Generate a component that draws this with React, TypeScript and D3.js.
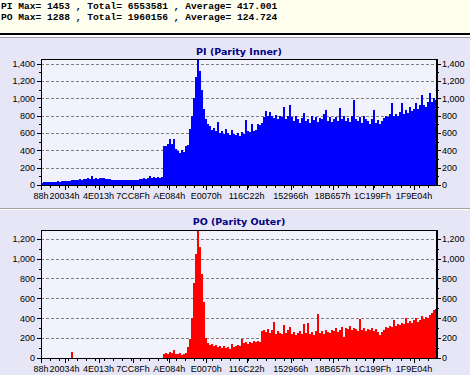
import React from "react";
import * as d3 from "d3";

// ---- data ----
const summaryLines = [
  "PI Max= 1453 , Total= 6553581 , Average= 417.001",
  "PO Max= 1288 , Total= 1960156 , Average= 124.724",
];

const xTickLabels = [
  "88h", "20034h", "4E013h", "7CC8Fh", "AE084h", "E0070h",
  "116C22h", "152966h", "18B657h", "1C199Fh", "1F9E04h",
];

const sectorEnd = 0x219000;

const piValues = [
  28, 32, 30, 35, 33, 38, 36, 40, 42, 38, 45, 44, 48, 46, 50,
  55, 52, 60, 58, 65, 62, 70, 66, 75, 72, 104, 70, 78, 74, 80,
  75, 78, 72, 70, 68,
  60, 58, 55, 56, 52, 55, 54, 58, 56, 55, 60, 58, 62, 60, 65,
  70, 75, 68, 80, 100, 85, 90, 78, 88, 84, 92,
  450, 445, 470, 530, 470, 530, 420, 390, 370, 400, 380, 450,
  460, 650, 800, 1000, 1250, 1453, 1320, 1100, 880, 760,
  700, 680, 640, 660, 620, 730, 600, 620, 590, 650, 600, 580, 640, 590, 580,
  600, 560, 610, 590, 750, 620, 610, 700, 620, 640, 700, 690, 720,
  780, 850, 800, 840, 790, 770, 810, 760, 800, 780, 900, 760, 790, 920, 780, 740, 800, 760, 720,
  770, 830, 740, 760, 720, 800, 750, 780, 730, 770, 760, 820, 860, 740, 780, 730, 760,
  780, 740, 890, 760, 800, 740, 770, 730, 800, 975, 760,
  740, 780, 720, 800, 760, 740, 700, 760, 860, 720, 750, 700, 740, 770,
  800, 780, 820, 950, 800, 820, 790, 840, 950, 820, 860, 830, 900, 850, 880, 940, 880, 920, 1040, 920, 900, 960, 1060, 960, 1000, 980,
];

const poValues = [
  0, 0, 0, 0, 0, 0, 0, 0, 0, 0, 0, 0, 0, 0, 0,
  57, 0, 0, 0, 0, 0, 0, 0, 0, 0, 0, 0, 0, 0, 0,
  0, 0, 0, 0, 0, 0, 0, 0, 0, 0, 0, 0, 0, 0, 0,
  0, 0, 0, 0, 0, 0, 0, 0, 0, 0, 0, 0, 0, 0, 0, 0,
  45, 55, 40, 60, 50, 84, 45, 40, 50, 35, 45, 55,
  110, 190, 400, 750, 1050, 1288, 1120, 850, 560, 200,
  150, 130, 140, 120, 130, 110, 125, 105, 120, 100, 115, 95, 145, 110, 120,
  130, 125, 190, 150, 160, 145, 165, 150, 170, 160, 175, 165, 270,
  280, 260, 290, 250, 280, 360, 240, 270, 255, 240, 330, 250, 280, 310, 240, 260, 230, 250, 270,
  240, 340, 250, 350, 240, 260, 230, 270, 440, 250, 270, 240, 280, 260, 250, 280, 270,
  300, 260, 280, 310, 210, 300, 290, 320, 280, 300, 290,
  270, 395, 280, 300, 270, 290, 280, 300, 270, 290, 260, 230, 260, 280,
  310, 300, 320, 310, 380, 320, 340, 330, 350, 340, 405, 350, 370, 355, 380, 400, 360, 380, 420, 390, 410, 400, 430, 450, 480, 495,
];

const panelDefs = [
  { title: "PI (Parity Inner)", values: piValues, color: "#0000FF", top: 59, bottom: 185, titleY: 55, labelY: 199 },
  { title: "PO (Parity Outer)", values: poValues, color: "#FF0000", top: 230, bottom: 358, titleY: 225, labelY: 372 },
];

// ---- layout ----
const W = 470;
const H = 375;
const PL = 41;
const PR = 437;
const SANS = "'Liberation Sans', Arial, sans-serif";

function Panel({ def }: { def: typeof panelDefs[number] }) {
  const { values, color, top, bottom } = def;
  const ymax = d3.max(values) as number;
  const x = d3.scaleLinear().domain([0, sectorEnd]).range([PL, PR]);
  const y = d3.scaleLinear().domain([0, ymax]).range([bottom, top]);
  const step = sectorEnd / values.length;
  const yTicks = d3.range(0, ymax + 1, 200);
  const yMinor = d3.range(100, ymax, 200);
  const xMinor = d3.range(0, sectorEnd, 50000);
  const fmt = d3.format(",");
  return (
    <g>
      <rect x={PL} y={top} width={PR - PL} height={bottom - top} fill="#F2F2FC" />
      {yTicks.filter((t) => t > 0).map((t) => (
        <line key={"g" + t} x1={PL} x2={PR} y1={Math.round(y(t)) + 0.5} y2={Math.round(y(t)) + 0.5}
          stroke="#808080" strokeDasharray="3,2" />
      ))}
      <g shapeRendering="crispEdges">
        {values.map((v, i) => {
          const x0 = x(i * step);
          const x1 = x((i + 1) * step);
          return <rect key={i} x={x0} y={y(v)} width={x1 - x0 + 0.4} height={bottom - y(v)} fill={color} />;
        })}
      </g>
      <g shapeRendering="crispEdges" stroke="#000">
        <line x1={PL} x2={PR} y1={top} y2={top} />
        <line x1={PL} x2={PR} y1={bottom + 0.5} y2={bottom + 0.5} />
        <line x1={PL + 0.5} x2={PL + 0.5} y1={top} y2={bottom + 1} />
        <line x1={PR} x2={PR} y1={top} y2={bottom + 1} strokeWidth={1.5} />
        {yTicks.map((t) => (
          <g key={"t" + t}>
            <line x1={PL - 4} x2={PL} y1={Math.round(y(t)) + 0.5} y2={Math.round(y(t)) + 0.5} />
            <line x1={PR} x2={PR + 4} y1={Math.round(y(t)) + 0.5} y2={Math.round(y(t)) + 0.5} />
          </g>
        ))}
        {yMinor.map((t) => (
          <g key={"m" + t}>
            <line x1={PL - 2} x2={PL} y1={Math.round(y(t)) + 0.5} y2={Math.round(y(t)) + 0.5} />
            <line x1={PR} x2={PR + 2} y1={Math.round(y(t)) + 0.5} y2={Math.round(y(t)) + 0.5} />
          </g>
        ))}
        {xMinor.map((s) => (
          <line key={"xm" + s} x1={Math.round(x(s)) + 0.5} x2={Math.round(x(s)) + 0.5} y1={bottom + 1} y2={bottom + 3} />
        ))}
        {xTickLabels.map((l) => (
          <line key={"xt" + l} x1={Math.round(x(parseInt(l, 16))) + 0.5} x2={Math.round(x(parseInt(l, 16))) + 0.5}
            y1={bottom + 1} y2={bottom + 5} />
        ))}
      </g>
      <g fontFamily={SANS} fontSize={9} fill="#000">
        {yTicks.map((t) => (
          <g key={"yl" + t}>
            <text x={PL - 6} y={y(t) + 3.3} textAnchor="end">{fmt(t)}</text>
            <text x={PR + 5} y={y(t) + 3.3} textAnchor="start">{fmt(t)}</text>
          </g>
        ))}
        {xTickLabels.map((l) => (
          <text key={"xl" + l} x={x(parseInt(l, 16))} y={def.labelY} textAnchor="middle">{l}</text>
        ))}
      </g>
      <text x={(PL + PR) / 2} y={def.titleY} textAnchor="middle" fontFamily="'DejaVu Sans', Verdana, sans-serif"
        fontWeight="bold" fontSize={9.5} fill="#000080">{def.title}</text>
    </g>
  );
}

export default function App() {
  return (
    <svg width={W} height={H} style={{ position: "fixed", left: 0, top: 0 }} xmlns="http://www.w3.org/2000/svg">
      <rect x={0} y={0} width={W} height={H} fill="#E6E6F6" />
      <rect x={0} y={0} width={W} height={33} fill="#FFFFF0" />
      <g shapeRendering="crispEdges">
        <rect x={0} y={33} width={W} height={2} fill="#000" />
        <rect x={0} y={35} width={W} height={1.5} fill="#FFFFFF" />
        <rect x={0} y={36.5} width={W} height={1.5} fill="#A0A0A0" />
        <rect x={0} y={208} width={W} height={1} fill="#A0A0A0" />
        <rect x={0} y={209} width={W} height={1} fill="#FFFFFF" />
      </g>
      <g fontFamily="'Liberation Mono', 'Courier New', monospace" fontSize={9.6} fontWeight="bold" fill="#000"
        style={{ whiteSpace: "pre" }}>
        {summaryLines.map((s, i) => (
          <text key={i} x={1} y={9 + i * 11}>{s}</text>
        ))}
      </g>
      {panelDefs.map((p) => (
        <Panel key={p.title} def={p} />
      ))}
    </svg>
  );
}
